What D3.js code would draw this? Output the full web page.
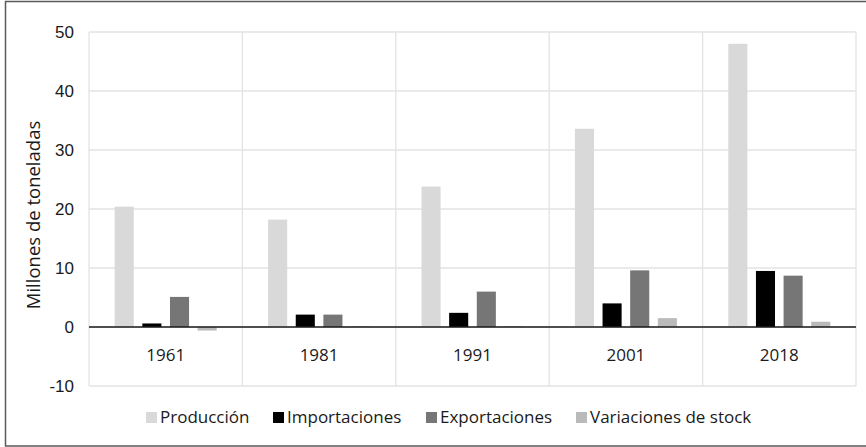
<!DOCTYPE html>
<html lang="es">
<head>
  <meta charset="UTF-8">
  <title>Millones de toneladas</title>
  <script src="https://d3js.org/d3.v7.min.js"></script>
  <style>
    body {
      margin: 0;
      background: #ffffff;
      font-family: "Open Sans", sans-serif;
    }
    .grid line { stroke: #e3e3e3; stroke-width: 1.3; }
    .tick-label { fill: #1a1a1a; font-size: 17px; }
    .legend text { fill: #1a1a1a; font-size: 17px; }
  </style>
</head>
<body>
  <script>
    // data
    const years = ["1961", "1981", "1991", "2001", "2018"];
    const seriesNames = ["Producción", "Importaciones", "Exportaciones", "Variaciones de stock"];
    const produccion = [20.4, 18.2, 23.8, 33.6, 48.0];
    const importaciones = [0.6, 2.1, 2.4, 4.0, 9.5];
    const exportaciones = [5.1, 2.1, 6.0, 9.6, 8.7];
    const variaciones = [-0.6, 0.1, 0.1, 1.5, 0.9];
    const yTicks = [-10, 0, 10, 20, 30, 40, 50];
    const colors = ["#d9d9d9", "#000000", "#767676", "#bababa"];

    const W = 866, H = 447;
    const plot = {left: 89, right: 856, top: 32, bottom: 386};

    const svg = d3.select("body").append("svg")
      .attr("width", W)
      .attr("height", H);

    svg.append("rect")
      .attr("x", 5.5).attr("y", 1.5)
      .attr("width", W + 10).attr("height", 444.5)
      .attr("fill", "white")
      .attr("stroke", "#5a5a5a")
      .attr("stroke-width", 1.5);

    const x0 = d3.scaleBand()
      .domain(years)
      .range([plot.left, plot.right])
      .padding(0);

    const x1 = d3.scaleBand()
      .domain(seriesNames)
      .range([0, x0.bandwidth()])
      .paddingInner(0.31)
      .paddingOuter(0.93);

    const y = d3.scaleLinear()
      .domain([-10, 50])
      .range([plot.bottom, plot.top]);

    const grid = svg.append("g").attr("class", "grid");

    grid.selectAll(".h")
      .data(yTicks)
      .enter().append("line")
      .attr("x1", plot.left).attr("x2", plot.right)
      .attr("y1", d => y(d)).attr("y2", d => y(d));

    grid.selectAll(".v")
      .data(years.concat(["end"]))
      .enter().append("line")
      .attr("x1", (d, i) => i < years.length ? x0(d) : plot.right)
      .attr("x2", (d, i) => i < years.length ? x0(d) : plot.right)
      .attr("y1", plot.top).attr("y2", plot.bottom);

    const yAxis = d3.axisLeft(y)
      .tickValues(yTicks)
      .tickFormat(d => String(d))
      .tickSize(0)
      .tickPadding(15);
    const yg = svg.append("g")
      .attr("transform", "translate(" + plot.left + ",0)")
      .call(yAxis);
    yg.select(".domain").remove();
    yg.selectAll("text").attr("class", "tick-label")
      .attr("font-family", null).attr("font-size", null);

    const table = years.map((yr, i) => ({
      year: yr,
      values: [produccion[i], importaciones[i], exportaciones[i], variaciones[i]]
    }));

    const groups = svg.selectAll(".group")
      .data(table)
      .enter().append("g")
      .attr("transform", d => "translate(" + x0(d.year) + ",0)");

    groups.selectAll("rect")
      .data(d => d.values.map((v, j) => ({name: seriesNames[j], value: v, color: colors[j]})))
      .enter().append("rect")
      .attr("x", d => x1(d.name))
      .attr("width", x1.bandwidth())
      .attr("y", d => y(Math.max(0, d.value)))
      .attr("height", d => Math.abs(y(d.value) - y(0)))
      .attr("fill", d => d.color);

    // zero line
    svg.append("line")
      .attr("x1", plot.left).attr("x2", plot.right)
      .attr("y1", y(0)).attr("y2", y(0))
      .attr("stroke", "#1a1a1a")
      .attr("stroke-width", 1.3);

    // category labels
    svg.selectAll(".cat")
      .data(years)
      .enter().append("text")
      .attr("class", "tick-label")
      .attr("x", d => x0(d) + x0.bandwidth() / 2)
      .attr("y", 361)
      .attr("text-anchor", "middle")
      .text(d => d);

    svg.append("text")
      .attr("class", "tick-label")
      .attr("transform", "translate(40," + ((120 + 310) / 2) + ") rotate(-90)")
      .attr("text-anchor", "middle")
      .style("font-size", "18.5px")
      .text("Millones de toneladas");

    // legend
    const legendX = [146, 273, 426, 576];
    const legend = svg.append("g").attr("class", "legend");
    seriesNames.forEach((name, i) => {
      legend.append("rect")
        .attr("x", legendX[i]).attr("y", 412)
        .attr("width", 11).attr("height", 11)
        .attr("fill", colors[i]);
      legend.append("text")
        .attr("x", legendX[i] + 14).attr("y", 423)
        .text(name);
    });
  </script>
</body>
</html>
